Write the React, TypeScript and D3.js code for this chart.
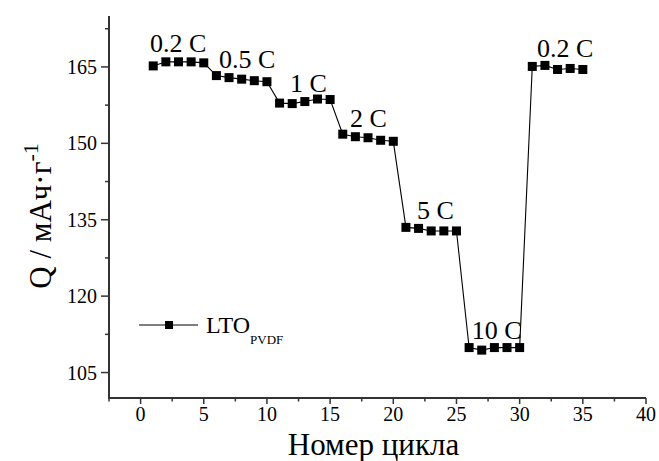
import React from "react";
import * as d3 from "d3";

const cycles = [1, 2, 3, 4, 5, 6, 7, 8, 9, 10, 11, 12, 13, 14, 15, 16, 17, 18, 19, 20, 21, 22, 23, 24, 25, 26, 27, 28, 29, 30, 31, 32, 33, 34, 35];
const capacity = [
  165.2, 166.0, 166.0, 166.0, 165.8,
  163.3, 162.9, 162.6, 162.3, 162.1,
  157.9, 157.8, 158.2, 158.7, 158.6,
  151.8, 151.3, 151.1, 150.6, 150.4,
  133.5, 133.3, 132.8, 132.8, 132.8,
  109.9, 109.4, 109.9, 109.9, 109.9,
  165.1, 165.3, 164.5, 164.7, 164.5,
];
const rateLabels = ["0.2 C", "0.5 C", "1 C", "2 C", "5 C", "10 C", "0.2 C"];
const rateLabelX = [0.74, 6.2, 11.82, 16.57, 21.87, 26.2, 31.38];
const rateLabelY = [167.94, 164.8, 160.1, 153.2, 135.2, 111.6, 166.96];
const xTicks = [0, 5, 10, 15, 20, 25, 30, 35, 40];
const xMinorTicks = [-2.5, 2.5, 7.5, 12.5, 17.5, 22.5, 27.5, 32.5, 37.5];
const yTicks = [105, 120, 135, 150, 165];
const yMinorTicks = [112.5, 127.5, 142.5, 157.5, 172.5];

const W = 659;
const H = 461;
const FONT = '"Liberation Serif", "Times New Roman", Tinos, serif';
const AX = "#333";

export default function App() {
  const x = d3.scaleLinear().domain([-2.5, 40]).range([109, 646]);
  const y = d3.scaleLinear().domain([100, 175]).range([398, 16]);
  const pts = cycles.map((c, i) => [c, capacity[i]] as [number, number]);
  const line = d3
    .line<[number, number]>()
    .x((d) => x(d[0]))
    .y((d) => y(d[1]));
  const ms = 9;
  const x0 = x(-2.5);
  const yb = y(100);

  return (
    <svg
      width={W}
      height={H}
      style={{ position: "absolute", left: 0, top: 0, background: "#fff", fontFamily: FONT }}
    >
      <rect x={0} y={0} width={W} height={H} fill="#fff" />
      <path d={line(pts) || ""} fill="none" stroke="#000" strokeWidth={1.1} />
      {pts.map((d, i) => (
        <rect
          key={i}
          x={x(d[0]) - ms / 2}
          y={y(d[1]) - ms / 2}
          width={ms}
          height={ms}
          fill="#000"
        />
      ))}
      {rateLabels.map((t, i) => (
        <text key={i} x={x(rateLabelX[i])} y={y(rateLabelY[i])} fontSize={26} fill="#000">
          {t}
        </text>
      ))}
      <line x1={x0} x2={x0} y1={y(175)} y2={yb} stroke={AX} strokeWidth={2} />
      <line x1={x0 - 1} x2={x(40)} y1={yb} y2={yb} stroke={AX} strokeWidth={2} />
      {yTicks.map((t) => (
        <g key={t}>
          <line x1={x0 - 8} x2={x0} y1={y(t)} y2={y(t)} stroke={AX} strokeWidth={1.5} />
          <text x={x0 - 12} y={y(t) + 7} fontSize={20} textAnchor="end" fill="#000">
            {t}
          </text>
        </g>
      ))}
      {yMinorTicks.map((t) => (
        <line key={t} x1={x0 - 4} x2={x0} y1={y(t)} y2={y(t)} stroke={AX} strokeWidth={1.5} />
      ))}
      {xTicks.map((t) => (
        <g key={t}>
          <line x1={x(t)} x2={x(t)} y1={yb} y2={yb + 6} stroke={AX} strokeWidth={1.5} />
          <text x={x(t)} y={yb + 23} fontSize={20} textAnchor="middle" fill="#000">
            {t}
          </text>
        </g>
      ))}
      {xMinorTicks.map((t) => (
        <line key={t} x1={x(t)} x2={x(t)} y1={yb} y2={yb + 3.5} stroke={AX} strokeWidth={1.5} />
      ))}
      <text x={(x(-2.5) + x(40)) / 2 - 4} y={455} fontSize={31} textAnchor="middle" fill="#000">
        Номер цикла
      </text>
      <text
        transform={`translate(51, 216) rotate(-90)`}
        fontSize={31}
        textAnchor="middle"
        fill="#000"
      >
        Q / мАч·г<tspan dy={-13} fontSize={22}>-1</tspan>
      </text>
      <line x1={139} x2={198} y1={325} y2={325} stroke="#000" strokeWidth={1.1} />
      <rect x={169 - 4} y={325 - 4} width={8} height={8} fill="#000" />
      <text x={206} y={333} fontSize={24} fill="#000">
        LTO<tspan fontSize={13} dy={11}>PVDF</tspan>
      </text>
    </svg>
  );
}
